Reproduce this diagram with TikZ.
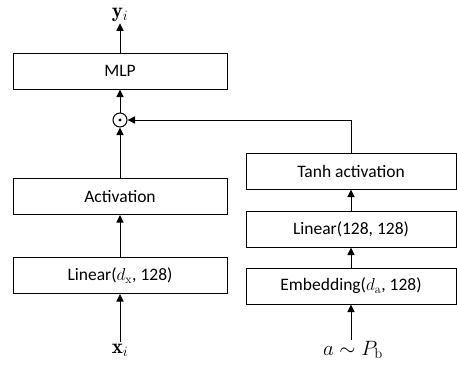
\documentclass[tikz,border=0pt]{standalone}
\usepackage{amsmath,amssymb}
\usepackage{fontspec}
\newfontfamily\boxfont{Carlito}
\usetikzlibrary{arrows.meta}

\begin{document}
\begin{tikzpicture}
[
x=1pt, y=-1pt,
line width=1pt,
>={Triangle[length=7.5pt,width=7pt]},
layer/.style={draw, rectangle, inner sep=0pt, minimum height=36pt, font=\boxfont\fontsize{17.5}{20}\selectfont},
leftlayer/.style={layer, minimum width=214pt},
rightlayer/.style={layer, minimum width=210pt},
io/.style={inner sep=1pt, font=\fontsize{21}{24}\selectfont}
]
\useasboundingbox (0,0) rectangle (457,364);

% left branch
\node[leftlayer] (mlp) at (120,71) {MLP};
\node[leftlayer] (act) at (120,196.5) {Activation};
\node[leftlayer] (linx) at (120,275.5) {Linear($d_{\mathrm{x}}$, 128)};
\node[circle, draw, inner sep=0pt, minimum size=14pt] (prod) at (120,120) {};
\fill (prod.center) circle (1.6pt);
\node[io] (yi) at (120,15) {$\mathbf{y}_i$};
\node[io] (xi) at (120,350) {$\mathbf{x}_i$};

% right branch
\node[rightlayer] (tanh) at (351,171) {Tanh activation};
\node[rightlayer] (lina) at (351,229) {Linear(128, 128)};
\node[rightlayer] (emb) at (351,286) {Embedding($d_{\mathrm{a}}$, 128)};
\node[io] (a) at (353,350) {$a \sim P_{\mathrm{b}}$};

\draw[->] (xi) -- (linx);
\draw[->] (linx) -- (act);
\draw[->] (act) -- (prod);
\draw[->] (prod) -- (mlp);
\draw[->] (mlp) -- (yi);
\draw[->] (a.north -| emb.south) -- (emb);
\draw[->] (emb) -- (lina);
\draw[->] (lina) -- (tanh);
\draw[->] (tanh.north) |- (prod.east);
\end{tikzpicture}
\end{document}
